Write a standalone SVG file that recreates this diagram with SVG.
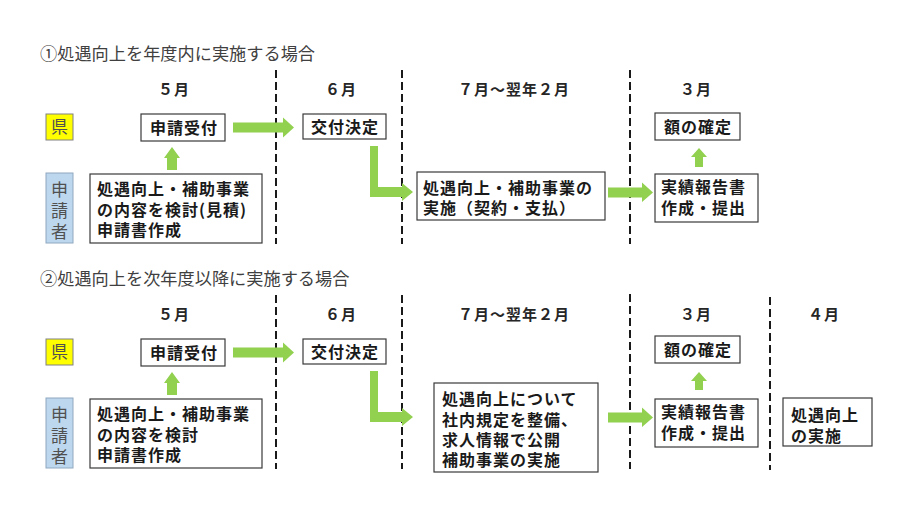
<svg xmlns="http://www.w3.org/2000/svg" width="912" height="513" viewBox="0 0 912 513">
<style>
.title{font-family:"Noto Sans CJK JP","Noto Sans",sans-serif;font-size:17.2px;fill:#404040;}
.mon{font-family:"Noto Sans CJK JP","Noto Sans",sans-serif;font-size:15px;font-weight:bold;fill:#262626;text-anchor:middle;letter-spacing:1px;}
.bt{font-family:"Noto Sans CJK JP","Noto Sans",sans-serif;font-size:16px;font-weight:bold;fill:#1a1a1a;letter-spacing:1px;}
.c{text-anchor:middle;}
.box{fill:#fff;stroke:#3a3a3a;stroke-width:1.2;}
.ken{fill:#FFFF00;stroke:#808080;stroke-width:1;}
.shin{fill:#BDD7EE;stroke:#8FA8C0;stroke-width:1;}
.lab{font-family:"Noto Sans CJK JP","Noto Sans",sans-serif;font-size:17px;fill:#505050;text-anchor:middle;}
.dash{stroke:#1a1a1a;stroke-width:2;stroke-dasharray:8 4;fill:none;}
.arr{fill:#92D050;}
</style>

<!-- Section 1 -->
<text class="title" x="40" y="60">①処遇向上を年度内に実施する場合</text>
<g id="months1">
<text class="mon" x="174" y="95">５月</text>
<text class="mon" x="341" y="95">６月</text>
<text class="mon" x="514" y="95">７月～翌年２月</text>
<text class="mon" x="696" y="95">３月</text>
</g>
<g id="dividers1">
<line class="dash" x1="276" y1="70" x2="276" y2="244"/>
<line class="dash" x1="402" y1="70" x2="402" y2="244"/>
<line class="dash" x1="630" y1="70" x2="630" y2="244"/>
</g>
<g id="ken1">
<rect class="ken" x="46" y="114" width="27" height="26"/>
<text class="lab" x="59.5" y="133">県</text>
</g>
<g id="shinseisha1">
<rect class="shin" x="46" y="173" width="27" height="70"/>
<text class="lab" x="59.5" y="196">申<tspan x="59.5" dy="21">請</tspan><tspan x="59.5" dy="21">者</tspan></text>
</g>
<g id="uketsuke1">
<rect class="box" x="141" y="114" width="84" height="27"/>
<text class="bt c" x="184" y="134">申請受付</text>
</g>
<g id="kettei1">
<rect class="box" x="303" y="114" width="83" height="25"/>
<text class="bt c" x="345" y="133">交付決定</text>
</g>
<g id="kentou1">
<rect class="box" x="90" y="174" width="172" height="69"/>
<text class="bt" x="97" y="195">処遇向上・補助事業<tspan x="97" dy="21">の内容を検討(見積)</tspan><tspan x="97" dy="20">申請書作成</tspan></text>
</g>
<g id="jisshi1">
<rect class="box" x="417" y="172" width="188" height="48"/>
<text class="bt" x="423" y="194">処遇向上・補助事業の<tspan x="423" dy="20">実施（契約・支払）</tspan></text>
</g>
<g id="kakutei1">
<rect class="box" x="655" y="113" width="85" height="27"/>
<text class="bt c" x="698" y="133">額の確定</text>
</g>
<g id="houkoku1">
<rect class="box" x="655" y="174" width="103" height="48"/>
<text class="bt" x="661" y="193">実績報告書<tspan x="661" dy="21">作成・提出</tspan></text>
</g>
<g id="connectors1">
<path class="arr" d="M233,122.5 H283 V117.5 L294,127.5 L283,137.5 V132.5 H233 Z"/>
<path class="arr" d="M167,170 V158 H164 L172,147 L180,158 H177 V170 Z"/>
<path class="arr" d="M370,146 H378 V187 H402 V183 L413,192 L402,201 V197 H370 Z"/>
<path class="arr" d="M608,187.5 H642 V182.5 L653,192.5 L642,202 V197.5 H608 Z"/>
<path class="arr" d="M695,167 V157 H691 L699,148 L707,157 H703 V167 Z"/>
</g>

<!-- Section 2 -->
<text class="title" x="40" y="285">②処遇向上を次年度以降に実施する場合</text>
<g id="months2">
<text class="mon" x="174" y="320">５月</text>
<text class="mon" x="341" y="320">６月</text>
<text class="mon" x="514" y="320">７月～翌年２月</text>
<text class="mon" x="696" y="320">３月</text>
<text class="mon" x="824" y="320">４月</text>
</g>
<g id="dividers2">
<line class="dash" x1="276" y1="295" x2="276" y2="469"/>
<line class="dash" x1="402" y1="295" x2="402" y2="469"/>
<line class="dash" x1="630" y1="294" x2="630" y2="469"/>
<line class="dash" x1="770" y1="297" x2="770" y2="470"/>
</g>
<g id="ken2">
<rect class="ken" x="46" y="339" width="27" height="26"/>
<text class="lab" x="59.5" y="358">県</text>
</g>
<g id="shinseisha2">
<rect class="shin" x="46" y="398" width="27" height="70"/>
<text class="lab" x="59.5" y="421">申<tspan x="59.5" dy="21">請</tspan><tspan x="59.5" dy="21">者</tspan></text>
</g>
<g id="uketsuke2">
<rect class="box" x="141" y="339" width="84" height="27"/>
<text class="bt c" x="184" y="359">申請受付</text>
</g>
<g id="kettei2">
<rect class="box" x="303" y="339" width="83" height="25"/>
<text class="bt c" x="345" y="358">交付決定</text>
</g>
<g id="kentou2">
<rect class="box" x="90" y="399" width="172" height="69"/>
<text class="bt" x="97" y="420">処遇向上・補助事業<tspan x="97" dy="21">の内容を検討</tspan><tspan x="97" dy="20">申請書作成</tspan></text>
</g>
<g id="jisshi2">
<rect class="box" x="434" y="383" width="164" height="89"/>
<text class="bt" x="442" y="405">処遇向上について<tspan x="442" dy="21">社内規定を整備、</tspan><tspan x="442" dy="20">求人情報で公開</tspan><tspan x="442" dy="20">補助事業の実施</tspan></text>
</g>
<g id="kakutei2">
<rect class="box" x="655" y="336" width="85" height="27"/>
<text class="bt c" x="698" y="356">額の確定</text>
</g>
<g id="houkoku2">
<rect class="box" x="655" y="399" width="103" height="48"/>
<text class="bt" x="661" y="418">実績報告書<tspan x="661" dy="21">作成・提出</tspan></text>
</g>
<g id="shogu2">
<rect class="box" x="783" y="398" width="89" height="48"/>
<text class="bt" x="791" y="421">処遇向上<tspan x="791" dy="21">の実施</tspan></text>
</g>
<g id="connectors2">
<path class="arr" d="M233,347.5 H283 V342.5 L294,352.5 L283,362.5 V357.5 H233 Z"/>
<path class="arr" d="M167,395 V383 H164 L172,372 L180,383 H177 V395 Z"/>
<path class="arr" d="M370,371 H378 V412 H402 V408 L413,417 L402,426 V422 H370 Z"/>
<path class="arr" d="M608,412.5 H642 V407.5 L653,417.5 L642,427 V422.5 H608 Z"/>
<path class="arr" d="M695,390 V381 H691 L699,372 L707,381 H703 V390 Z"/>
</g>
</svg>
